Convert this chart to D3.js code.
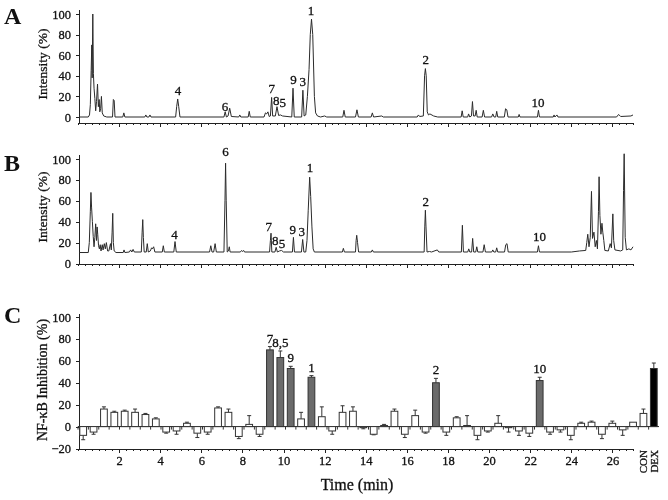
<!DOCTYPE html>
<html lang="en">
<head>
<meta charset="UTF-8">
<title>Chromatograms and NF-κB inhibition</title>
<style>
  body { margin: 0; background: #fff; }
  svg { filter: grayscale(100%); }
  svg text { font-family: "Liberation Serif", "DejaVu Serif", serif; fill: #111; stroke: #111; stroke-width: 0.3px; }
  .trace { fill: none; stroke: #2b2b2b; stroke-width: 1; stroke-linejoin: round; }
  .axis path, .axis line { stroke: #222; shape-rendering: crispEdges; }
  .tick-label { font-size: 12.5px; }
</style>
</head>
<body>
<div id="chart"></div>
<script src="https://cdn.jsdelivr.net/npm/d3@7"></script>
<script>
// ---- data ----
// chromatogram A: [time (min), intensity (%)]
const traceA = [
  [0.05,0],[0.5,0],[0.56,2],[0.6,12],[0.64,45],[0.67,70],[0.69,38],[0.72,100],[0.75,42],[0.78,28],[0.82,18],
  [0.86,6],[0.9,15],[0.95,32],[0.99,10],[1.03,17],[1.06,5],[1.1,8],[1.14,20],[1.18,4],[1.25,1],[1.4,0],
  [1.68,0],[1.72,17],[1.76,16],[1.8,0],[2.18,0],[2.23,4],[2.28,0],
  [3.25,0],[3.3,2],[3.35,0],[3.45,0],[3.5,2],[3.55,0],
  [4.75,0],[4.8,10],[4.85,17.5],[4.9,10],[4.96,0],
  [7.1,0],[7.16,5],[7.22,0],[7.3,1],[7.38,8.5],[7.46,0.5],[7.82,0],[7.87,2],[7.92,0],
  [8.28,0],[8.33,5.5],[8.38,0],[9.05,0],[9.12,4],[9.18,3],[9.24,5],[9.3,0.5],
  [9.36,1],[9.42,19],[9.47,1],[9.6,1],[9.68,10],[9.76,1.5],[9.85,2],[9.95,1],
  [10.4,0],[10.46,28],[10.52,0],[10.88,0],[10.94,26],[11.0,1],
  [11.08,2],[11.16,20],[11.24,46],[11.3,80],[11.36,95],[11.42,80],[11.5,20],[11.56,4],[11.65,1],[11.8,0],
  [12.0,1],[12.1,0],[12.88,0],[12.94,6.5],[13.0,0],[13.5,0],[13.57,7],[13.64,0],
  [14.26,0],[14.32,4],[14.38,0],[14.78,1],[14.85,0],
  [16.5,0],[16.56,2],[16.62,0.5],[16.8,1],[16.86,40],[16.9,47],[16.94,40],[16.99,5],[17.05,2],[17.12,3],[17.3,1],[17.5,0],
  [18.64,0],[18.69,6],[18.74,0],[18.96,0],[19.0,3],[19.06,0],[19.14,1],[19.19,15],[19.24,1],[19.32,1],[19.37,6.5],[19.42,0],
  [19.66,0],[19.72,6.5],[19.78,0],[20.12,0],[20.18,3],[20.24,0],[20.32,0],[20.37,5.5],[20.42,0],
  [20.74,0],[20.8,8],[20.86,7],[20.92,0],[21.42,0],[21.46,2.5],[21.5,0],
  [22.35,0],[22.4,6.5],[22.45,0],[23.12,0],[23.16,2],[23.2,0],[23.3,2],[23.35,0],
  [26.2,0],[26.3,2.5],[26.4,0.5],[26.9,1],[27.0,2]
];

// chromatogram B: [time (min), intensity (%)]
const traceB = [
  [0.05,10.5],[0.5,10.5],[0.55,20],[0.6,50],[0.63,68],[0.66,54],[0.7,40],[0.74,26],[0.78,16],[0.82,25],[0.86,38],
  [0.9,22],[0.93,35],[0.96,28],[1.0,17],[1.04,14],[1.08,18],[1.12,12],[1.18,18],[1.22,13],[1.28,19],[1.33,14],
  [1.38,20],[1.44,12],[1.5,12],[1.58,19],[1.62,13],[1.66,30],[1.69,48],[1.72,20],[1.76,12],[1.85,10.5],
  [2.2,10.5],[2.24,13],[2.28,10.5],[2.5,11],[2.56,13],[2.62,11],[2.68,13.5],[2.74,11],
  [3.08,11],[3.12,30],[3.15,42],[3.18,25],[3.22,11],[3.32,11],[3.37,19],[3.42,11],
  [3.52,12],[3.58,15],[3.62,14],[3.68,16],[3.74,11],[4.1,11],[4.15,17],[4.2,11],
  [4.66,11],[4.72,21],[4.78,11],[6.4,11],[6.46,17],[6.52,11],[6.6,11],[6.67,19],[6.73,11],
  [7.1,11],[7.15,60],[7.18,96],[7.21,60],[7.26,11],[7.32,12],[7.36,16],[7.4,11],
  [7.9,11],[7.96,12.5],[8.0,11.5],[8.06,12.5],[8.1,11],
  [9.32,11],[9.36,22],[9.39,29],[9.43,11],[9.58,11],[9.64,15.5],[9.7,11],[9.8,12],[9.9,12.5],[10.0,11],
  [10.43,11],[10.48,25],[10.53,11],[10.87,11],[10.93,23],[10.99,11],
  [11.08,11],[11.14,22],[11.2,51],[11.27,82.6],[11.32,64],[11.38,35],[11.44,14],[11.5,11],
  [12.86,11],[12.91,14.5],[12.96,11],[13.5,11],[13.53,22],[13.56,27],[13.6,20],[13.65,11],
  [14.27,11],[14.32,13],[14.37,11],
  [16.84,11],[16.87,35],[16.9,51],[16.93,35],[16.98,11],[17.1,11.5],[17.2,11],[17.48,13],[17.55,11],
  [18.65,11],[18.7,36.6],[18.75,11],[18.96,11],[19.01,14],[19.06,11],[19.15,11],[19.2,24],[19.25,11],
  [19.35,11],[19.4,16],[19.45,11],[19.7,11],[19.76,18],[19.82,11],
  [20.13,11],[20.18,13],[20.23,11],[20.32,11],[20.37,15],[20.42,11],[20.75,11],[20.81,18],[20.87,19],[20.93,11],
  [22.35,11],[22.4,17],[22.45,11],
  [24.0,11],[24.4,12],[24.7,12.5],[24.75,20],[24.8,28],[24.86,16],[24.92,25],[24.98,69],[25.03,24],[25.1,30],
  [25.16,16],[25.22,22],[25.27,14],[25.32,50],[25.35,83],[25.39,46],[25.44,28],[25.49,38.5],[25.53,30],[25.58,22],
  [25.63,12.5],[25.8,12],[25.89,19],[25.95,15],[26.02,47.5],[26.06,22],[26.12,13],[26.4,12],[26.5,13],
  [26.54,70],[26.57,105],[26.62,25],[26.68,13],[26.8,14],[26.9,13],[27.0,16]
];

// peak labels: [text, time, intensity at label baseline]
const peakLabelsA = [
  ["4",4.87,21.7],["6",7.15,6.1],["7",9.43,23],["8",9.64,12],["5",9.96,10],
  ["9",10.48,32],["3",10.93,29.8],["1",11.34,99.3],["2",16.92,51.5],["10",22.38,9.4]
];
const peakLabelsB = [
  ["6",7.17,102.4],["4",4.69,23.5],["7",9.28,30.9],["8",9.6,18],["5",9.93,14.9],
  ["9",10.45,28.3],["3",10.89,26.7],["1",11.29,87.4],["2",16.92,55.4],["10",22.45,21.3]
];

// panel C: fractions (min), NF-kB inhibition (%) and error
const fractions = ["0.25","0.75","1.25","1.75","2.25","2.75","3.25","3.75","4.25","4.75",
  "5.25","5.75","6.25","6.75","7.25","7.75","8.25","8.75","9.25","9.75",
  "10.25","10.75","11.25","11.75","12.25","12.75","13.25","13.75","14.25","14.75",
  "15.25","15.75","16.25","16.75","17.25","17.75","18.25","18.75","19.25","19.75",
  "20.25","20.75","21.25","21.75","22.25","22.75","23.25","23.75","24.25","24.75",
  "25.25","25.75","26.25","26.75","CON","DEX"];
const inhibition = [-8,-5,16,13,14,13,11,7,-5,-4,3,-6,-5,17,13,-9,2,-7,70,63,
  53,7,45,9,-4,13,14,-1,-7,1,14,-7,10,-5,40,-5,8,1,-8,-4,
  3,-1,-4,-6,42,-5,-3,-8,3,4,-7,3,-3,4,12,53];
const inhibitionErr = [4,2,2,1,1,3,1,1,1,3,1,4,2,1,3,2,8,2,3,6,
  2,6,1.5,9,3,6,4,1,0.5,1,2,3,5,1,4,3,1,9,4,1,
  7,4,4,3,3,2,2,4,1,1,4,2,5,0,4,5];
const activeFractions = ["9.25","9.75","10.25","11.25","17.25","22.25"];
const activeLabels = ["7","8,5","9","1","2","10"];
const intensityTicks = [0,20,40,60,80,100];
const inhibitionTicks = [-20,0,20,40,60,80,100];
const timeTicks = [2,4,6,8,10,12,14,16,18,20,22,24,26];

// ---- drawing ----
const width = 668, height = 500;
const svg = d3.select("#chart").append("svg")
  .attr("width", width).attr("height", height);

const x = d3.scaleLinear().domain([0, 27]).range([78, 633]);
const minorTicks = d3.range(0, 27.001, 1 / 3);

function timeAxis(yPos, labels) {
  svg.append("g").attr("class", "axis")
    .attr("transform", `translate(0,${yPos})`)
    .call(d3.axisBottom(x).tickValues(minorTicks).tickSize(2).tickSizeOuter(0).tickFormat(""));
  const major = svg.append("g").attr("class", "axis")
    .attr("transform", `translate(0,${yPos})`)
    .call(d3.axisBottom(x).tickValues(timeTicks).tickSize(4).tickPadding(3)
      .tickFormat(labels ? d3.format("d") : ""));
  major.select(".domain").remove();
  major.selectAll("text").attr("class", "tick-label").attr("fill", "#111");
}

function valueAxis(y, ticks, top, bottom) {
  const g = svg.append("g").attr("class", "axis")
    .attr("transform", "translate(79,0)")
    .call(d3.axisLeft(y).tickValues(ticks).tickSize(3).tickPadding(5));
  g.select(".domain").remove();
  g.selectAll("text").attr("class", "tick-label").attr("fill", "#111");
  g.append("line").attr("x1", 0).attr("x2", 0).attr("y1", top).attr("y2", bottom);
}

function panelLetter(txt, yPos) {
  svg.append("text").attr("x", 4).attr("y", yPos)
    .style("font-size", "24px").style("font-weight", "bold").style("stroke-width", 0)
    .text(txt);
}

function yTitle(txt, cy, size) {
  svg.append("text")
    .attr("transform", `translate(47,${cy}) rotate(-90)`)
    .attr("text-anchor", "middle")
    .style("font-size", size).text(txt);
}

function chromatogram(trace, labels, y, axisY, top) {
  valueAxis(y, intensityTicks, top, axisY);
  timeAxis(axisY, false);
  svg.append("path").datum(trace).attr("class", "trace")
    .attr("d", d3.line().x(d => x(d[0])).y(d => y(d[1])));
  svg.append("g").selectAll("text").data(labels).join("text")
    .attr("x", d => x(d[1])).attr("y", d => y(d[2]))
    .attr("text-anchor", "middle").style("font-size", "13px")
    .text(d => d[0]);
}

// A
const yA = d3.scaleLinear().domain([0, 100]).range([117, 14]);
chromatogram(traceA, peakLabelsA, yA, 123, 10);
panelLetter("A", 24);
yTitle("Intensity (%)", 64, "13.5px");

// B
const yB = d3.scaleLinear().domain([0, 100]).range([263.5, 159]);
chromatogram(traceB, peakLabelsB, yB, 264, 155);
panelLetter("B", 171);
yTitle("Intensity (%)", 207, "13.5px");

// C
const yC = d3.scaleLinear().domain([-20, 100]).range([448.5, 317]);
const band = d3.scaleBand().domain(fractions).range([78, 659]).paddingInner(0.35).paddingOuter(0.175);
valueAxis(yC, inhibitionTicks, 314, 449);
timeAxis(449, true);
panelLetter("C", 323);
yTitle("NF-κB Inhibition (%)", 380, "14px");

const bars = fractions.map((f, i) => ({ f, v: inhibition[i], e: inhibitionErr[i] }));
const barFill = d => d.f === "DEX" ? "#000" : activeFractions.includes(d.f) ? "#6b6b6b" : "#fff";

// zero line with small separators
svg.append("line").attr("x1", 78).attr("x2", 659)
  .attr("y1", yC(0)).attr("y2", yC(0)).attr("stroke", "#222");
svg.append("g").selectAll("line").data(fractions).join("line")
  .attr("x1", d => band(d) - band.step() * 0.175).attr("x2", d => band(d) - band.step() * 0.175)
  .attr("y1", yC(0)).attr("y2", yC(0) + 3).attr("stroke", "#333");

// error bars
const eb = svg.append("g").attr("stroke", "#333").attr("stroke-width", 1);
bars.filter(d => d.e > 0).forEach(d => {
  const cx = band(d.f) + band.bandwidth() / 2;
  const end = d.v >= 0 ? d.v + d.e : d.v - d.e;
  eb.append("line").attr("x1", cx).attr("x2", cx).attr("y1", yC(d.v)).attr("y2", yC(end));
  eb.append("line").attr("x1", cx - 2).attr("x2", cx + 2).attr("y1", yC(end)).attr("y2", yC(end));
});

svg.append("g").selectAll("rect").data(bars).join("rect")
  .attr("x", d => band(d.f))
  .attr("width", band.bandwidth())
  .attr("y", d => yC(Math.max(0, d.v)))
  .attr("height", d => Math.abs(yC(d.v) - yC(0)))
  .attr("fill", barFill)
  .attr("stroke", "#333").attr("stroke-width", 1);

svg.append("g").selectAll("text").data(activeFractions).join("text")
  .attr("x", d => band(d) + band.bandwidth() / 2)
  .attr("y", (d, i) => {
    const k = fractions.indexOf(d);
    return yC(inhibition[k] + inhibitionErr[k]) - 4;
  })
  .attr("text-anchor", "middle").style("font-size", "13px")
  .text((d, i) => activeLabels[i]);

// CON / DEX labels
svg.append("g").selectAll("text").data(["CON", "DEX"]).join("text")
  .attr("transform", d => `translate(${band(d) + band.bandwidth() / 2 + 4},450) rotate(-90)`)
  .attr("text-anchor", "end").style("font-size", "11px")
  .text(d => d);

svg.append("text").attr("x", 357).attr("y", 490)
  .attr("text-anchor", "middle").style("font-size", "16px").text("Time (min)");
</script>
</body>
</html>
